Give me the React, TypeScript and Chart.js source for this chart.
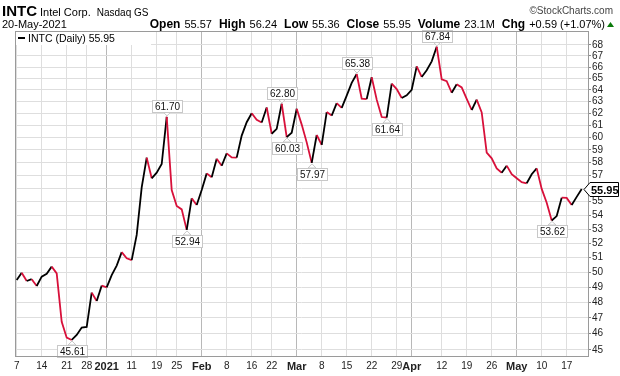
import React, { useEffect, useRef } from 'react';
import { Chart, registerables } from 'chart.js';

Chart.register(...registerables);

// Trading days (Dec 2020 – May 2021)
const dec2020 = [7, 8, 9, 10, 11, 14, 15, 16, 17, 18, 21, 22, 23, 24, 28, 29, 30, 31];
const jan2021 = [4, 5, 6, 7, 8, 11, 12, 13, 14, 15, 19, 20, 21, 22, 25, 26, 27, 28, 29];
const feb2021 = [1, 2, 3, 4, 5, 8, 9, 10, 11, 12, 16, 17, 18, 19, 22, 23, 24, 25, 26];
const mar2021 = [1, 2, 3, 4, 5, 8, 9, 10, 11, 12, 15, 16, 17, 18, 19, 22, 23, 24, 25, 26, 29, 30, 31];
const apr2021 = [1, 5, 6, 7, 8, 9, 12, 13, 14, 15, 16, 19, 20, 21, 22, 23, 26, 27, 28, 29, 30];
const may2021 = [3, 4, 5, 6, 7, 10, 11, 12, 13, 14, 17, 18, 19, 20];

// Daily closes
const closes = [
  49.47, 49.96, 49.40, 49.52, 49.07, 49.69, 49.89, 50.37, 49.91, 46.75,
  45.75, 45.61, 45.92, 46.38, 46.42, 48.63, 48.08, 49.09, 48.98, 49.80,
  50.44, 51.37, 50.94, 50.82, 52.58, 56.08, 58.38, 56.77, 57.20, 57.88,
  61.70, 55.88, 54.68, 54.43, 52.94, 55.25, 54.75, 55.88, 57.15, 56.85,
  58.30, 57.74, 58.72, 58.40, 58.38, 60.15, 61.25, 62.00, 61.45, 61.22,
  62.48, 60.30, 60.70, 62.80, 60.03, 60.38, 62.38, 61.05, 59.60, 57.97,
  60.20, 59.40, 62.10, 61.80, 62.85, 62.45, 63.50, 64.60, 65.38, 63.23,
  63.20, 65.09, 63.15, 61.68, 61.64, 64.53, 64.06, 63.29, 63.52, 64.00,
  66.06, 65.12, 65.71, 66.51, 67.84, 64.90, 64.75, 63.74, 64.48, 64.20,
  63.22, 62.27, 63.15, 62.07, 58.77, 58.33, 57.54, 57.20, 57.75, 57.08,
  56.77, 56.47, 56.39, 57.08, 57.54, 55.96, 54.92, 53.62, 53.94, 55.30,
  55.28, 54.75, 55.36, 55.95,
];

// X-axis ticks
const tickDates = [
  '2020-12-07', '2020-12-14', '2020-12-21', '2020-12-28', '2021-01-04', '2021-01-11',
  '2021-01-19', '2021-01-25', '2021-02-01', '2021-02-08', '2021-02-16', '2021-02-22',
  '2021-03-01', '2021-03-08', '2021-03-15', '2021-03-22', '2021-03-29', '2021-04-01',
  '2021-04-12', '2021-04-19', '2021-04-26', '2021-05-03', '2021-05-10', '2021-05-17',
];
const tickLabels = [
  '7', '14', '21', '28', '2021', '11', '19', '25', 'Feb', '8', '16', '22',
  'Mar', '8', '15', '22', '29', 'Apr', '12', '19', '26', 'May', '10', '17',
];
const monthTickLabels = ['2021', 'Feb', 'Mar', 'Apr', 'May'];

// Y-axis ticks
const yTicks = [45, 46, 47, 48, 49, 50, 51, 52, 53, 54, 55, 56, 57, 58, 59, 60, 61, 62, 63, 64, 65, 66, 67, 68];

// Value callouts
const calloutDates = [
  '2020-12-22', '2021-01-21', '2021-01-27', '2021-02-24', '2021-02-25',
  '2021-03-04', '2021-03-17', '2021-03-25', '2021-04-09', '2021-05-12',
];
const calloutSides = ['below', 'above', 'below', 'above', 'below', 'below', 'above', 'below', 'above', 'below'];

const RED = '#d8103a';
const BLACK = '#000000';
const FONT = '"Liberation Sans", Arial, sans-serif';

const pad = (n: number) => (n < 10 ? '0' + n : '' + n);

export default function App() {
  const ref = useRef<HTMLCanvasElement>(null);

  useEffect(() => {
    document.body.style.margin = '0';
    const canvas = ref.current!;
    const dates: string[] = [
      ...dec2020.map((d) => `2020-12-${pad(d)}`),
      ...jan2021.map((d) => `2021-01-${pad(d)}`),
      ...feb2021.map((d) => `2021-02-${pad(d)}`),
      ...mar2021.map((d) => `2021-03-${pad(d)}`),
      ...apr2021.map((d) => `2021-04-${pad(d)}`),
      ...may2021.map((d) => `2021-05-${pad(d)}`),
    ];
    const tickIdx = tickDates.map((d) => dates.indexOf(d));
    const labelByIdx = new Map<number, string>();
    tickIdx.forEach((i, k) => labelByIdx.set(i, tickLabels[k]));
    const monthIdx = new Set<number>();
    tickIdx.forEach((i, k) => {
      if (monthTickLabels.includes(tickLabels[k])) monthIdx.add(i);
    });
    const data = closes.map((y, i) => ({ x: i, y }));
    const last = closes[closes.length - 1];

    const overlay = {
      id: 'overlay',
      afterDatasetsDraw(chart: any) {
        const ctx = chart.ctx as CanvasRenderingContext2D;
        const xs = chart.scales.x;
        const ys = chart.scales.y;
        const area = chart.chartArea;
        ctx.save();
        // legend box
        ctx.fillStyle = '#fff';
        ctx.fillRect(area.left + 1, area.top + 1, 135, 13);
        ctx.strokeStyle = '#000';
        ctx.lineWidth = 2;
        ctx.beginPath();
        ctx.moveTo(area.left + 3, area.top + 7);
        ctx.lineTo(area.left + 10, area.top + 7);
        ctx.stroke();
        ctx.fillStyle = '#000';
        ctx.font = `10.5px ${FONT}`;
        ctx.textBaseline = 'alphabetic';
        ctx.textAlign = 'left';
        ctx.fillText(`INTC (Daily) ${last.toFixed(2)}`, area.left + 13, area.top + 11);

        // callouts
        ctx.font = `10px ${FONT}`;
        calloutDates.forEach((d, k) => {
          const i = dates.indexOf(d);
          if (i < 0) return;
          const v = closes[i];
          const text = v.toFixed(2);
          const px = Math.round(xs.getPixelForValue(i));
          const py = ys.getPixelForValue(v);
          const w = Math.round(ctx.measureText(text).width) + 5;
          const h = 12;
          const gap = 5;
          const left = px - Math.round(w / 2);
          let top: number;
          ctx.lineWidth = 1;
          ctx.strokeStyle = '#c8c8c8';
          ctx.fillStyle = '#fff';
          ctx.beginPath();
          if (calloutSides[k] === 'above') {
            top = Math.round(py - gap - h);
            ctx.moveTo(px - 4, top + h);
            ctx.lineTo(px, py - 1);
            ctx.lineTo(px + 4, top + h);
          } else {
            top = Math.round(py + gap);
            ctx.moveTo(px - 4, top);
            ctx.lineTo(px, py + 1);
            ctx.lineTo(px + 4, top);
          }
          ctx.closePath();
          ctx.fill();
          ctx.stroke();
          ctx.fillRect(left, top, w, h);
          ctx.strokeRect(left + 0.5, top + 0.5, w, h);
          ctx.fillStyle = '#111';
          ctx.textAlign = 'center';
          ctx.fillText(text, px + 0.5, top + 10);
        });
        ctx.restore();
      },
      afterDraw(chart: any) {
        const ctx = chart.ctx as CanvasRenderingContext2D;
        const ys = chart.scales.y;
        const area = chart.chartArea;
        ctx.save();
        // plot border
        ctx.strokeStyle = '#9a9a9a';
        ctx.lineWidth = 1;
        ctx.strokeRect(area.left + 0.5, area.top + 0.5, area.right - area.left, area.bottom - area.top);

        // last value tag
        const py = Math.round(ys.getPixelForValue(last)) + 0.5;
        const tip = area.right - 4;
        ctx.beginPath();
        ctx.moveTo(tip, py);
        ctx.lineTo(tip + 6, py - 7);
        ctx.lineTo(618.5, py - 7);
        ctx.lineTo(618.5, py + 7);
        ctx.lineTo(tip + 6, py + 7);
        ctx.closePath();
        ctx.fillStyle = '#fff';
        ctx.fill();
        ctx.strokeStyle = '#000';
        ctx.stroke();
        ctx.fillStyle = '#000';
        ctx.font = `bold 11px ${FONT}`;
        ctx.textAlign = 'left';
        ctx.textBaseline = 'alphabetic';
        ctx.fillText(last.toFixed(2), tip + 7, py + 4);

        // header
        ctx.fillStyle = '#000';
        ctx.font = `bold 15px ${FONT}`;
        ctx.fillText('INTC', 2, 16);
        let x = 2 + ctx.measureText('INTC').width + 3;
        ctx.font = `11px ${FONT}`;
        ctx.fillText('Intel Corp.', x, 16);
        x += ctx.measureText('Intel Corp.').width + 6;
        ctx.font = `10px ${FONT}`;
        ctx.fillText('Nasdaq GS', x, 16);

        ctx.fillStyle = '#444';
        ctx.textAlign = 'right';
        ctx.fillText('\u00A9StockCharts.com', 613, 14);

        ctx.textAlign = 'left';
        ctx.fillStyle = '#000';
        ctx.font = `11px ${FONT}`;
        ctx.fillText('20-May-2021', 2, 28);

        const parts: [string, boolean][] = [
          ['Open', true], ['55.57', false], ['High', true], ['56.24', false],
          ['Low', true], ['55.36', false], ['Close', true], ['55.95', false],
          ['Volume', true], ['23.1M', false], ['Chg', true], ['+0.59 (+1.07%)', false],
        ];
        const fontOf = (b: boolean) => (b ? `bold 12px ${FONT}` : `11px ${FONT}`);
        const widths = parts.map(([t, b]) => {
          ctx.font = fontOf(b);
          return ctx.measureText(t).width;
        });
        const gaps = parts.map(([, b], k) => (k === parts.length - 1 ? 0 : b ? 4 : 7));
        const total = widths.reduce((a, b) => a + b, 0) + gaps.reduce((a, b) => a + b, 0);
        let sx = 605 - total;
        parts.forEach(([t, b], k) => {
          ctx.font = fontOf(b);
          ctx.fillText(t, sx, 28);
          sx += widths[k] + gaps[k];
        });
        ctx.fillStyle = '#0a7a0a';
        ctx.beginPath();
        ctx.moveTo(607, 27);
        ctx.lineTo(614, 27);
        ctx.lineTo(610.5, 22);
        ctx.closePath();
        ctx.fill();
        ctx.restore();
      },
    };

    const chart = new Chart(canvas, {
      type: 'line',
      data: {
        datasets: [
          {
            data,
            borderColor: BLACK,
            borderWidth: 1.8,
            pointRadius: 0,
            tension: 0,
            segment: {
              borderColor: (c: any) => (c.p1.parsed.y < c.p0.parsed.y ? RED : BLACK),
            },
          },
        ],
      },
      options: {
        animation: false,
        responsive: false,
        maintainAspectRatio: false,
        layout: { padding: { left: 15, top: 31, right: 0, bottom: 0 } },
        plugins: { legend: { display: false }, tooltip: { enabled: false } },
        scales: {
          x: {
            type: 'linear',
            min: -0.34,
            max: 114.26,
            afterBuildTicks: (s: any) => {
              s.ticks = tickIdx.map((v) => ({ value: v }));
            },
            afterFit: (s: any) => {
              s.height = 20;
            },
            ticks: {
              autoSkip: false,
              maxRotation: 0,
              padding: 4,
              color: '#222',
              font: (c: any) => {
                const m = c.tick && monthIdx.has(c.tick.value);
                return { family: FONT, size: m ? 11 : 10, weight: m ? 'bold' : 'normal' };
              },
              callback: (v: any) => labelByIdx.get(Number(v)) ?? '',
            },
            grid: {
              color: (c: any) => (c.tick && monthIdx.has(c.tick.value) ? '#b8b8b8' : '#dedede'),
              drawTicks: false,
            },
            border: { color: '#9a9a9a' },
          },
          y: {
            type: 'logarithmic',
            position: 'right',
            min: 44.63,
            max: 69.3,
            afterBuildTicks: (s: any) => {
              s.ticks = yTicks.map((v) => ({ value: v }));
            },
            afterFit: (s: any) => {
              s.width = 32;
            },
            ticks: {
              autoSkip: false,
              padding: 1,
              color: '#222',
              font: { family: FONT, size: 10 },
              callback: (v: any) => String(v),
            },
            grid: { color: '#dedede', tickLength: 3, tickColor: '#888' },
            border: { color: '#9a9a9a' },
          },
        },
      },
      plugins: [overlay],
    } as any);

    return () => chart.destroy();
  }, []);

  return <canvas ref={ref} width={620} height={376} style={{ display: 'block' }} />;
}
